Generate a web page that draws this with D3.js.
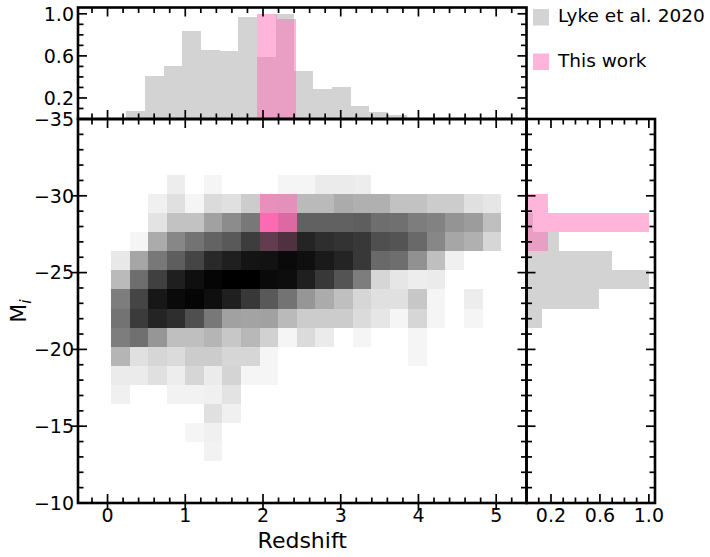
<!DOCTYPE html>
<html><head><meta charset="utf-8">
<script src="https://cdn.jsdelivr.net/npm/d3@7"></script>
<style>body{margin:0;background:#fff}svg{display:block;font-family:"DejaVu Sans",sans-serif}</style>
</head><body><svg id="c" width="710" height="557"></svg>
<script>
// ---------------- data ----------------
// 2D histogram bin edges
const zEdges = [0.045,0.284,0.523,0.762,1.001,1.240,1.479,1.718,1.957,2.196,2.435,2.674,2.913,3.152,3.391,3.630,3.869,4.108,4.347,4.586,4.825,5.064];
const miEdges = [-31.35,-30.11,-28.87,-27.63,-26.39,-25.14,-23.90,-22.66,-21.42,-20.18,-18.94,-17.70,-16.45,-15.21,-13.97,-12.73];
// grey 2D histogram (Lyke et al. 2020), relative density per cell, rows follow miEdges, cols follow zEdges
const greyDensity = [
  [0,0,0,0.07,0,0.04,0,0,0,0.04,0.04,0.08,0.08,0.07,0,0,0,0,0,0,0],
  [0,0,0.06,0.12,0.04,0.14,0.12,0.20,0.22,0.24,0.27,0.27,0.33,0.31,0.31,0.24,0.24,0.20,0.20,0.12,0.10],
  [0,0,0.11,0.24,0.24,0.37,0.45,0.53,0.55,0.59,0.62,0.62,0.62,0.63,0.57,0.56,0.51,0.49,0.42,0.39,0.25],
  [0,0.04,0.33,0.47,0.55,0.61,0.65,0.76,0.82,0.86,0.86,0.82,0.80,0.78,0.69,0.67,0.59,0.47,0.35,0.31,0.16],
  [0.09,0.35,0.53,0.63,0.73,0.84,0.88,0.92,0.93,0.96,0.94,0.90,0.86,0.78,0.59,0.57,0.43,0.25,0.06,0,0],
  [0.27,0.57,0.75,0.88,0.94,0.98,1.00,1.00,0.96,0.95,0.88,0.78,0.67,0.51,0.16,0.10,0.07,0.08,0,0,0],
  [0.51,0.73,0.91,0.96,0.98,0.94,0.88,0.78,0.65,0.55,0.41,0.33,0.25,0.16,0.12,0.12,0.22,0.04,0,0.07,0],
  [0.55,0.77,0.86,0.82,0.69,0.53,0.37,0.36,0.37,0.27,0.20,0.20,0.20,0.14,0.10,0.04,0.16,0.04,0,0.04,0],
  [0.51,0.56,0.41,0.25,0.25,0.29,0.22,0.28,0.18,0.04,0.14,0.08,0,0.04,0,0,0.04,0,0,0,0],
  [0.29,0.12,0.16,0.14,0.20,0.20,0.16,0.16,0.04,0,0,0,0,0,0,0,0.04,0,0,0,0],
  [0.08,0.08,0.12,0.07,0.16,0.08,0.17,0.04,0.04,0,0,0,0,0,0,0,0,0,0,0,0],
  [0.06,0,0,0.05,0.05,0.06,0.11,0,0,0,0,0,0,0,0,0,0,0,0,0,0],
  [0,0,0,0,0,0.12,0.06,0,0,0,0,0,0,0,0,0,0,0,0,0,0],
  [0,0,0,0,0.04,0.06,0,0,0,0,0,0,0,0,0,0,0,0,0,0,0],
  [0,0,0,0,0,0.05,0,0,0,0,0,0,0,0,0,0,0,0,0,0,0]
];
// pink 2D histogram (This work): row / col indices into the grids above, and intensity
const pinkRows = [1,2,3];
const pinkCols = [8,9];
const pinkDensity = [[0.6,0.55],[0.97,0.77],[0.25,0.2]];

// top (redshift) histograms, normalised to peak
const topGreyEdges = [0.238,0.479,0.720,0.960,1.201,1.441,1.682,1.923,2.164,2.404,2.645,2.885,3.126,3.367,3.607,3.848];
const topGrey = [0.079,0.41,0.50,0.84,0.66,0.65,0.97,0.585,1.0,0.452,0.285,0.30,0.126,0.066,0.038];
const topPinkEdges = [1.928,2.175,2.426];
const topPink = [1.0,0.953];

// right (M_i) histograms, normalised to peak, bins follow miEdges
const rightGrey = [0,0,0.05,0.265,0.70,1.0,0.59,0.124,0,0,0,0,0,0,0];
const rightPink = [0,0.173,1.0,0.173,0,0,0,0,0,0,0,0,0,0,0];

// tick labels
const xMajor = [0,1,2,3,4,5];
const yMajor = [-35,-30,-25,-20,-15,-10];
const histMajor = [0.2,0.6,1.0];

const legendItems = [{label:"Lyke et al. 2020", color:"#d3d3d3", op:1},{label:"This work", color:"hotpink", op:0.5}];

// ---------------- layout ----------------
const svg = d3.select("#c");
const M = {x0:78, x1:526.5, y0:119, y1:503};
const topY0 = 7.5, rightX1 = 655;

const x = d3.scaleLinear().domain([-0.38,5.39]).range([M.x0,M.x1]);
const y = d3.scaleLinear().domain([-35,-10]).range([M.y0,M.y1]);
const yTop = d3.scaleLinear().domain([0,1.06]).range([M.y0,topY0]);
const xRight = d3.scaleLinear().domain([0,1.05]).range([M.x1,rightX1]);
const grey = d3.scaleLinear().domain([0,1]).range(["#ffffff","#000000"]);

// ---------------- 2D histogram ----------------
const cells = [];
greyDensity.forEach((row,i)=>row.forEach((d,j)=>{ if(d>0) cells.push({i,j,d}); }));
svg.append("g").attr("shape-rendering","crispEdges").selectAll("rect").data(cells).join("rect")
  .attr("x",c=>x(zEdges[c.j])).attr("width",c=>x(zEdges[c.j+1])-x(zEdges[c.j]))
  .attr("y",c=>y(miEdges[c.i])).attr("height",c=>y(miEdges[c.i+1])-y(miEdges[c.i]))
  .attr("fill",c=>grey(c.d));

const pcells = [];
pinkRows.forEach((r,a)=>pinkCols.forEach((c,b)=>pcells.push({i:r,j:c,d:pinkDensity[a][b]})));
svg.append("g").attr("shape-rendering","crispEdges").selectAll("rect").data(pcells).join("rect")
  .attr("x",c=>x(zEdges[c.j])).attr("width",c=>x(zEdges[c.j+1])-x(zEdges[c.j]))
  .attr("y",c=>y(miEdges[c.i])).attr("height",c=>y(miEdges[c.i+1])-y(miEdges[c.i]))
  .attr("fill","hotpink").attr("fill-opacity",c=>c.d);

// ---------------- top histogram ----------------
const gTop = svg.append("g").attr("shape-rendering","crispEdges");
gTop.selectAll("rect.g").data(topGrey).join("rect").attr("class","g")
  .attr("x",(v,k)=>x(topGreyEdges[k])).attr("width",(v,k)=>x(topGreyEdges[k+1])-x(topGreyEdges[k]))
  .attr("y",v=>yTop(v)).attr("height",v=>yTop(0)-yTop(v)).attr("fill","#d3d3d3");
gTop.selectAll("rect.p").data(topPink).join("rect").attr("class","p")
  .attr("x",(v,k)=>x(topPinkEdges[k])).attr("width",(v,k)=>x(topPinkEdges[k+1])-x(topPinkEdges[k]))
  .attr("y",v=>yTop(v)).attr("height",v=>yTop(0)-yTop(v)).attr("fill","hotpink").attr("fill-opacity",0.5);

// ---------------- right histogram ----------------
const gR = svg.append("g").attr("shape-rendering","crispEdges");
gR.selectAll("rect.g").data(rightGrey).join("rect").attr("class","g")
  .attr("y",(v,k)=>y(miEdges[k])).attr("height",(v,k)=>y(miEdges[k+1])-y(miEdges[k]))
  .attr("x",xRight(0)).attr("width",v=>xRight(v)-xRight(0)).attr("fill","#d3d3d3");
gR.selectAll("rect.p").data(rightPink).join("rect").attr("class","p")
  .attr("y",(v,k)=>y(miEdges[k])).attr("height",(v,k)=>y(miEdges[k+1])-y(miEdges[k]))
  .attr("x",xRight(0)).attr("width",v=>xRight(v)-xRight(0)).attr("fill","hotpink").attr("fill-opacity",0.5);

// ---------------- ticks ----------------
const gt = svg.append("g").attr("stroke","#000").attr("stroke-width",1.7);
function ticks(orient,pos,scale,majors,minors,sign,majOut){
  const seg=(p,a,b)=>{
    if(orient==="h") gt.append("line").attr("x1",p).attr("x2",p).attr("y1",a).attr("y2",b);
    else gt.append("line").attr("y1",p).attr("y2",p).attr("x1",a).attr("x2",b);
  };
  majors.forEach(v=>seg(scale(v),pos-sign*(majOut||0),pos+sign*9));
  minors.forEach(v=>seg(scale(v),pos,pos+sign*5.5));
}
const xMin = d3.range(-1,28).map(k=>+(k*0.2).toFixed(1)).filter(v=>v>-0.38&&v<5.39&&Math.abs(v-Math.round(v))>1e-6);
const yMin = d3.range(-34,-10).filter(v=>v%5!==0);
const hMin = [0.1,0.3,0.4,0.5,0.7,0.8,0.9];
const yInner = yMajor.filter(v=>v>-35&&v<-10);
// main
ticks("h",M.y1,x,xMajor,xMin,-1,7);
ticks("h",M.y0,x,xMajor,xMin,1);
ticks("v",M.x0,y,yInner,yMin,1,7);
ticks("v",M.x1,y,yInner,yMin,-1);
// top
ticks("h",topY0,x,xMajor,xMin,1);
ticks("h",M.y0,x,xMajor,xMin,-1);
ticks("v",M.x0,yTop,histMajor,hMin,1);
ticks("v",M.x1,yTop,histMajor,hMin,-1);
// right
ticks("v",M.x1,y,yInner,yMin,1);
ticks("v",rightX1,y,yInner,yMin,-1);
ticks("h",M.y1,xRight,histMajor,hMin,-1);
ticks("h",M.y0,xRight,histMajor,hMin,1);

// ---------------- spines ----------------
const gs = svg.append("g").attr("fill","none").attr("stroke","#000").attr("stroke-width",2.6);
gs.append("rect").attr("x",M.x0).attr("y",M.y0).attr("width",M.x1-M.x0).attr("height",M.y1-M.y0);
gs.append("rect").attr("x",M.x0).attr("y",topY0).attr("width",M.x1-M.x0).attr("height",M.y0-topY0);
gs.append("rect").attr("x",M.x1).attr("y",M.y0).attr("width",rightX1-M.x1).attr("height",M.y1-M.y0);

// ---------------- tick labels ----------------
const gl = svg.append("g").attr("font-size",19).attr("fill","#000");
const fmtInt = d3.format("d"), fmt1 = d3.format(".1f");
gl.selectAll("text.xm").data(xMajor).join("text").attr("class","xm")
  .attr("x",v=>x(v)).attr("y",522).attr("text-anchor","middle").text(fmtInt);
gl.selectAll("text.ym").data(yMajor).join("text").attr("class","ym")
  .attr("x",74).attr("y",v=>y(v)).attr("dy","0.36em").attr("text-anchor","end").text(fmtInt);
gl.selectAll("text.yt").data(histMajor).join("text").attr("class","yt")
  .attr("x",74).attr("y",v=>yTop(v)).attr("dy","0.36em").attr("text-anchor","end").text(fmt1);
gl.selectAll("text.xr").data(histMajor).join("text").attr("class","xr")
  .attr("x",v=>xRight(v)).attr("y",522).attr("text-anchor","middle").text(fmt1);

// axis labels
svg.append("text").attr("x",(M.x0+M.x1)/2).attr("y",548).attr("text-anchor","middle")
  .attr("font-size",22).text("Redshift");
const ml = svg.append("text").attr("transform",`translate(26,${(M.y0+M.y1)/2}) rotate(-90)`)
  .attr("text-anchor","middle").attr("font-size",22);
ml.append("tspan").text("M");
ml.append("tspan").attr("font-size",15.5).attr("font-style","italic").attr("dy",5).text("i");

// ---------------- legend ----------------
const lg = svg.append("g");
legendItems.forEach((it,k)=>{
  const yy = 9 + k*44.5;
  lg.append("rect").attr("x",533).attr("y",yy).attr("width",16).attr("height",16.5)
    .attr("fill",it.color).attr("fill-opacity",it.op);
  lg.append("text").attr("x",558).attr("y",yy+13.3).attr("font-size",18.5).text(it.label);
});
</script></body></html>
